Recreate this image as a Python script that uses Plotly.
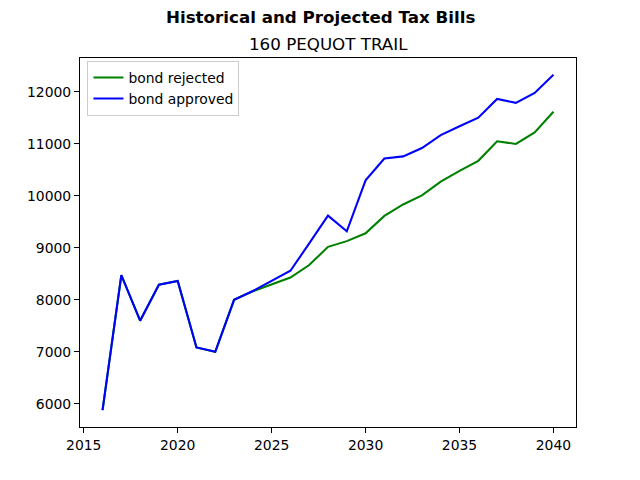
import plotly.graph_objects as go

years = list(range(2016, 2041))
bond_rejected = [5877, 8475, 7600, 8290, 8365, 7085, 7000, 8000, 8165, 8290, 8430,
                 8670, 9020, 9130, 9280, 9615, 9835, 10010, 10275, 10480, 10675,
                 11050, 11000, 11220, 11620]
bond_approved = [5877, 8475, 7600, 8290, 8365, 7085, 7000, 8000, 8170, 8360, 8560,
                 9085, 9620, 9320, 10300, 10720, 10760, 10920, 11170, 11340, 11505,
                 11865, 11790, 11980, 12330]
x_ticks = [2015, 2020, 2025, 2030, 2035, 2040]
y_ticks = [6000, 7000, 8000, 9000, 10000, 11000, 12000]

fig = go.Figure()
fig.add_trace(go.Scatter(x=years, y=bond_rejected, mode="lines", name="bond rejected",
                         line=dict(color="#008000", width=2.08)))
fig.add_trace(go.Scatter(x=years, y=bond_approved, mode="lines", name="bond approved",
                         line=dict(color="#0000ff", width=2.08)))

ymin = min(bond_rejected + bond_approved)
ymax = max(bond_rejected + bond_approved)
pad = (ymax - ymin) * 0.05
xpad = (years[-1] - years[0]) * 0.05

axis_common = dict(showline=True, linecolor="black", linewidth=1.1, mirror=True,
                   ticks="outside", ticklen=5, tickwidth=1.1, tickcolor="black",
                   showgrid=False, zeroline=False,
                   tickfont=dict(family="DejaVu Sans", size=13.9, color="black"))

fig.update_layout(
    width=640, height=480,
    margin=dict(l=80, r=64, t=58, b=53),
    plot_bgcolor="white", paper_bgcolor="white",
    xaxis=dict(range=[years[0] - xpad, years[-1] + xpad], tickvals=x_ticks,
               ticktext=[str(v) for v in x_ticks], **axis_common),
    yaxis=dict(range=[ymin - pad, ymax + pad], tickvals=y_ticks,
               ticktext=[str(v) for v in y_ticks], **axis_common),
    showlegend=True,
    legend=dict(x=0.015, y=0.992, xanchor="left", yanchor="top",
                bgcolor="rgba(255,255,255,0.8)", bordercolor="#cccccc", borderwidth=1,
                font=dict(family="DejaVu Sans", size=13.9, color="black"),
                tracegroupgap=0, itemwidth=30),
)
fig.add_annotation(text="<b>Historical and Projected Tax Bills</b>", xref="paper", yref="paper",
                   x=(320 - 80) / 496, y=1 + (58 - 17) / 369, xanchor="center", yanchor="middle",
                   showarrow=False, font=dict(family="DejaVu Sans", size=16.7, color="black"))
fig.add_annotation(text="160 PEQUOT TRAIL", xref="paper", yref="paper",
                   x=0.5, y=1 + (58 - 44) / 369, xanchor="center", yanchor="middle",
                   showarrow=False, font=dict(family="DejaVu Sans", size=16.7, color="black"))

fig.write_html("out.html")
